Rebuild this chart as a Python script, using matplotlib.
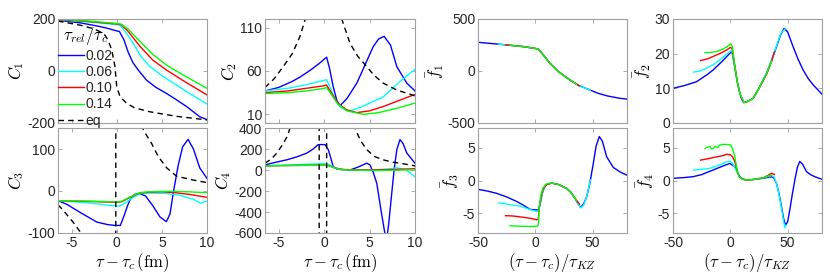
import matplotlib
matplotlib.use('Agg')
import matplotlib.pyplot as plt

plt.rcParams['font.family'] = ['Liberation Sans', 'DejaVu Sans']
plt.rcParams['mathtext.fontset'] = 'cm'
plt.rcParams['axes.unicode_minus'] = False

# colours / labels of the four relaxation times + equilibrium
rel_labels = ['0.02', '0.06', '0.10', '0.14']
rel_colors = ['#0000ff', '#00ffff', '#ff0000', '#00ff00']

# ---------------- C1 ----------------
c1_eq_x = [-6.5, -4, -2.5, -1.85, -1.3, -0.96, -0.55, -0.19, 0.0, 0.37, 1.1, 2.0, 3.7, 5.5, 7.0, 8.5, 10]
c1_eq_y = [192, 176, 162, 151, 138, 119, 81, 17, -60, -99, -124, -142, -157, -168, -176, -182, -188]
c1_b_x = [-6.5, -4, -2, -1, -0.2, 0.3, 0.8, 1.3, 1.8, 2.4, 3.3, 4.3, 5.5, 6.5, 7.75, 9.2, 10]
c1_b_y = [195, 185, 172, 164, 156, 152, 120, 70, 32, 3, -35, -62, -86, -108, -137, -176, -187]
c1_c_x = [-6.5, -4, -2, 0, 0.4, 1.0, 1.85, 2.7, 3.7, 5, 6.3, 8, 10]
c1_c_y = [197, 191, 185, 178, 175, 150, 106, 55, 17, -18, -47, -85, -127]
c1_r_x = [-6.5, -3, 0, 0.5, 1.2, 2.6, 4, 5.5, 7.5, 10]
c1_r_y = [198, 190, 181, 178, 155, 94, 42, 4, -40, -92]
c1_g_x = [-6.5, -3, 0, 0.5, 1.3, 2.6, 4, 5.5, 7.5, 10]
c1_g_y = [199, 192, 183, 180, 160, 113, 64, 23, -18, -67]

# ---------------- C2 ----------------
c2_eq_x = [-6.5, -5.5, -4.5, -3.5, -2.65, -2.1, -1.5, 0, 1.5, 1.94, 2.85, 3.7, 4.7, 5.5, 6.5, 8, 9.8, 10]
c2_eq_y = [41, 51, 65, 80, 100, 119, 200, 1000, 200, 120, 92, 77, 65, 55, 46, 38, 32, 31]
c2_b_x = [-6.5, -5, -3.5, -2.65, -1.5, -0.5, 0.28, 0.6, 1.0, 1.4, 1.75, 2.5, 3.6, 4.5, 5.4, 6.0, 6.6, 7.3, 8.0, 9.1, 10]
c2_b_y = [37, 41, 48, 53, 61, 69, 76, 63, 42, 26, 20, 28, 46, 67, 88, 97, 100, 90, 65, 46, 37]
c2_c_x = [-6.5, -4, -2, -0.5, 0.28, 0.7, 1.2, 1.8, 2.85, 4, 5.2, 6.5, 8.35, 10]
c2_c_y = [37, 40, 44, 48, 50, 40, 27, 18, 14, 18, 24, 30, 48, 62]
c2_r_x = [-6.5, -4, -2, 0, 0.25, 0.8, 1.5, 2.5, 3.6, 5, 6.5, 8, 10]
c2_r_y = [35, 37, 40, 43, 44, 35, 23, 15, 12, 14, 19, 25, 33]
c2_g_x = [-6.5, -4, -2, 0, 0.25, 0.8, 1.5, 2.5, 4.3, 6, 8, 10]
c2_g_y = [34, 35, 37, 40, 41, 33, 22, 14, 10, 12, 17, 23]

# ---------------- C3 ----------------
c3_eq_x = [-6.5, -6, -5.5, -4.8, -4.05, -3.5, -2, -0.5, -0.12, -0.08, 0.5, 1.5, 2.5, 2.95, 3.87, 4.6, 5.54, 6.64, 8.5, 10]
c3_eq_y = [-33, -44, -57, -75, -97, -120, -250, -1000, -5000, 5000, 1000, 400, 200, 145, 113, 82, 55, 35, 26, 20]
c3_b_x = [-6.5, -5.5, -4.05, -3, -2.2, -1, -0.2, 0.4, 0.8, 1.2, 1.5, 2.0, 2.5, 3.2, 4, 4.8, 5.5, 5.9, 6.3, 6.8, 7.3, 7.9, 8.5, 9.2, 10]
c3_b_y = [-23, -32, -51, -64, -74, -80, -82, -82, -60, -35, -20, -8, -6, -12, -35, -62, -73, -55, 0, 60, 105, 123, 100, 55, 30]
c3_c_x = [-6.5, -4, -2, -0.5, 0.3, 1.0, 1.8, 2.7, 4, 5.5, 7, 8.5, 9.3, 10]
c3_c_y = [-23, -27, -31, -35, -36, -28, -15, -6, -5, -6, -10, -20, -29, -24]
c3_r_x = [-6.5, -3, 0, 0.5, 1.5, 2.5, 3.5, 5, 6.5, 8, 10]
c3_r_y = [-23, -25, -27, -26, -15, -5, -3, -2, -4, -8, -15]
c3_g_x = [-6.5, -3, 0, 0.5, 1.5, 2.5, 3.5, 5, 6.5, 8, 10]
c3_g_y = [-23, -24, -26, -25, -14, -4, -2, -1, -1, -2, -4]

# ---------------- C4 ----------------
c4_eq_x = [-6.5, -5.8, -5.2, -4.5, -4.0, -3.75, -3, -2, -0.56, -0.52, 0.26, 0.3, 1.5, 3, 3.4, 4, 4.7, 5.5, 6.5, 7.5, 8.35, 10]
c4_eq_y = [65, 105, 161, 250, 330, 400, 700, 1500, 10000, -10000, -10000, 10000, 1500, 500, 400, 280, 194, 130, 97, 75, 65, 39]
c4_b_x = [-6.5, -5.5, -4.1, -3, -1.9, -1.2, -0.64, 0.1, 0.46, 0.75, 1.0, 1.4, 1.75, 2.85, 3.8, 4.7, 5.05, 5.4, 5.8, 6.2, 6.6, 6.85, 7.1, 7.4, 7.7, 8.0, 8.35, 8.7, 9.1, 10]
c4_b_y = [48, 70, 97, 125, 161, 200, 242, 242, 194, 110, 32, 10, 6, 0, 30, 65, 48, -20, -129, -350, -560, -680, -520, -258, 0, 194, 290, 250, 161, 65]
c4_c_x = [-6.5, -4, -2, 0, 0.5, 1, 1.7, 3, 5, 7, 8, 9, 10]
c4_c_y = [40, 48, 55, 60, 55, 30, 5, 0, 0, 10, 20, 5, -65]
c4_r_x = [-6.5, -3, 0, 0.5, 1.2, 2, 4, 6, 8, 10]
c4_r_y = [40, 44, 47, 42, 20, 5, 0, 2, 6, 12]
c4_g_x = [-6.5, -3, 0, 0.5, 1.2, 2, 4, 6, 8, 10]
c4_g_y = [40, 43, 45, 40, 18, 3, -3, -4, -2, 3]

# ---------------- f1 ----------------
f1_b_x = [-50, -30, -10, 2.6, 7, 12.8, 20, 30.3, 38, 47.7, 55, 63, 73.9, 80]
f1_b_y = [276, 256, 234, 212, 154, 74, -5, -87, -140, -183, -215, -240, -263, -270]
f1_c_x = [-32, -10, 2.6, 7, 12.8, 20, 30.3, 38, 48]
f1_c_y = [258, 234, 212, 154, 74, -5, -87, -140, -185]
f1_r_x = [-26, -10, 2.6, 7, 12.8, 20, 30.3, 38.5]
f1_r_y = [251, 234, 212, 154, 74, -5, -87, -143]
f1_g_x = [-22, -10, 2.6, 7, 12.8, 20, 30.3, 36]
f1_g_y = [247, 234, 212, 154, 74, -5, -87, -128]

# ---------------- f2 ----------------
f2_b_x = [-50, -40, -29.5, -20, -15, -8, -0.4, 1.5, 3.9, 6, 8.3, 10, 11.8, 15, 19.9, 25, 31.6, 36, 40.3, 44, 47, 50, 54.8, 59, 63.5, 68, 72.3, 80]
f2_b_y = [10, 10.8, 11.9, 14, 15.3, 17.5, 20.1, 20.5, 16.2, 12, 8.6, 6.8, 5.9, 6.2, 7.1, 10, 14.3, 18, 22, 25.5, 27.3, 26.3, 22, 18.5, 15.3, 12.8, 11, 8.3]
f2_c_x = [-32, -26, -20.8, -15, -9.2, -4, 0, 1.5, 3.9, 6, 8.3, 11.8, 15, 19.9, 25, 31.6, 36, 40.3, 44, 48]
f2_c_y = [14.7, 15.0, 15.8, 16.8, 18.2, 19.6, 20.8, 20.6, 16.2, 12, 8.6, 5.9, 6.2, 7.1, 10, 14.3, 18.2, 22.3, 25.8, 27.2]
f2_r_x = [-26, -20, -15, -8, -3, 0, 1.5, 3.9, 6, 8.3, 11.8, 15, 19.9, 25, 31.6, 36, 38.5]
f2_r_y = [18.0, 18.5, 19.2, 20.2, 21.1, 21.8, 21.5, 16.5, 12, 8.6, 5.9, 6.2, 7.1, 10, 14.0, 17.8, 20.5]
f2_g_x = [-22, -16, -12, -6, -2, 0.3, 1.8, 3.9, 6, 8.3, 11.8, 15, 19.9, 25, 31.6, 36]
f2_g_y = [20.3, 20.4, 20.6, 21.4, 22.2, 22.9, 22.0, 16.5, 12, 8.6, 5.9, 6.2, 7.1, 10, 14.2, 17.8]

# ---------------- f3 ----------------
f3_b_x = [-50, -42, -33.7, -25, -16.2, -10, -4.6, 2.6, 4, 6, 8, 10, 14.3, 20, 27.4, 31, 34.6, 37.5, 39.6, 42, 44.8, 47.5, 50.6, 53, 55.8, 58.5, 62.3, 68, 74, 80]
f3_b_y = [-1.35, -1.6, -1.96, -2.5, -3.2, -3.8, -4.4, -4.5, -3.8, -2.0, -1.0, -0.6, -0.4, -0.6, -1.2, -1.8, -2.7, -3.6, -4.1, -3.6, -2.5, -0.5, 2.6, 5.2, 6.7, 6.0, 3.6, 2.0, 1.3, 0.8]
f3_c_x = [-32, -25, -13.4, -5, 1.2, 2.6, 4, 6, 8, 10, 14.3, 20, 27.4, 31, 34.6, 37.5, 39.6, 42, 44.8, 48]
f3_c_y = [-3.4, -3.6, -3.9, -4.4, -4.75, -4.6, -3.5, -2.0, -1.0, -0.6, -0.4, -0.6, -1.2, -1.8, -2.7, -3.6, -4.2, -3.8, -2.5, 0.1]
f3_r_x = [-26, -20, -10.5, -3, 1.2, 2.6, 3.5, 5, 7, 10, 14.3, 20, 27.4, 31, 34.6, 38.5]
f3_r_y = [-5.36, -5.4, -5.6, -5.8, -6.0, -5.9, -4.0, -2.5, -1.2, -0.6, -0.4, -0.6, -1.2, -1.8, -2.7, -3.6]
f3_g_x = [-22, -15, -7.5, -2, 1.2, 2.6, 3.2, 4.5, 6.5, 9, 12, 14.3, 20, 27.4, 31, 34.6, 36]
f3_g_y = [-6.9, -6.95, -7.0, -7.0, -7.0, -6.8, -5.0, -2.5, -1.2, -0.6, -0.4, -0.4, -0.6, -1.2, -1.8, -2.7, -3.0]

# ---------------- f4 ----------------
f4_b_x = [-50, -40, -32.5, -25, -15, -8, -0.4, 3.9, 6, 8.3, 11, 14.1, 20, 28.6, 35.9, 38, 40.3, 42.5, 44.7, 46.5, 48.2, 50, 51.9, 54, 56.3, 58.5, 60.6, 63, 66.5, 70, 73.7, 80]
f4_b_y = [0.33, 0.45, 0.58, 0.9, 1.6, 2.1, 2.6, 2.1, 1.3, 0.58, 0.2, 0.08, 0.15, 0.33, 0.58, 0.4, -0.43, -2.0, -4.0, -5.8, -6.8, -6.3, -4.5, -2.2, 0.08, 2.0, 2.9, 2.5, 1.35, 0.9, 0.58, 0.18]
f4_c_x = [-32, -25, -17.9, -10, -3.3, 0, 2, 3.9, 6, 8.3, 11, 14.1, 20, 28.6, 35.9, 38, 40.3, 42.5, 44.7, 46.5, 47.6, 48.5]
f4_c_y = [1.6, 1.7, 1.85, 2.3, 2.86, 2.9, 2.6, 2.0, 1.2, 0.5, 0.2, 0.08, 0.15, 0.4, 0.75, 0.6, -0.4, -2.2, -4.3, -6.2, -7.2, -6.8]
f4_r_x = [-26, -20, -12, -6, -3.3, 0.3, 2, 3.9, 5.5, 7.5, 10, 14.1, 20, 28.6, 33, 36, 38.5]
f4_r_y = [3.1, 3.3, 3.6, 3.8, 4.0, 3.9, 3.6, 2.9, 1.8, 0.6, 0.25, 0.08, 0.15, 0.4, 0.8, 1.1, 0.9]
f4_g_x = [-22, -19.5, -17.9, -16.5, -15, -13, -11, -9.2, -6, -3.3, 0.3, 2, 3.9, 5.5, 7.5, 10, 14.1, 20, 28.6, 33, 36]
f4_g_y = [4.9, 5.1, 5.25, 4.8, 4.9, 5.2, 5.0, 5.4, 5.5, 5.5, 5.4, 4.8, 3.7, 2.0, 0.6, 0.25, 0.08, 0.15, 0.4, 0.7, 0.8]

W, H = 830, 274
fig = plt.figure(figsize=(W / 100, H / 100), dpi=100)


def make_axes(x0, x1, y0, y1):
    return fig.add_axes([x0 / W, 1 - y1 / H, (x1 - x0) / W, (y1 - y0) / H])


col_px = [(58, 207), (265, 415), (478, 627), (673, 822)]
row_px = [(19, 123), (128, 233)]

spine_col = '#a0a0a0'
text_col = '#262626'


def style(ax, bottom_labels):
    for s in ax.spines.values():
        s.set_color(spine_col)
        s.set_linewidth(0.8)
    ax.tick_params(direction='in', top=True, right=True, length=3, width=0.6,
                   color=spine_col, labelcolor=text_col, labelsize=10, pad=2,
                   labelbottom=bottom_labels)


def draw(ax, series, eq=None):
    handles = []
    for (x, y), col in zip(series, rel_colors):
        h, = ax.plot(x, y, color=col, lw=1.0)
        handles.append(h)
    if eq is not None:
        h, = ax.plot(eq[0], eq[1], color='k', lw=1.0, ls=(0, (4, 3)))
        handles.append(h)
    return handles


panels = [
    dict(pos=(0, 0), lines=[(c1_b_x, c1_b_y), (c1_c_x, c1_c_y), (c1_r_x, c1_r_y), (c1_g_x, c1_g_y)],
         eq=(c1_eq_x, c1_eq_y), xlim=(-6.5, 10), ylim=(-200, 200), yt=[-200, 0, 200], lab=r'$C_1$'),
    dict(pos=(1, 0), lines=[(c2_b_x, c2_b_y), (c2_c_x, c2_c_y), (c2_r_x, c2_r_y), (c2_g_x, c2_g_y)],
         eq=(c2_eq_x, c2_eq_y), xlim=(-6.5, 10), ylim=(0, 120), yt=[10, 60, 110], lab=r'$C_2$'),
    dict(pos=(0, 1), lines=[(c3_b_x, c3_b_y), (c3_c_x, c3_c_y), (c3_r_x, c3_r_y), (c3_g_x, c3_g_y)],
         eq=(c3_eq_x, c3_eq_y), xlim=(-6.5, 10), ylim=(-100, 150), yt=[-100, 0, 100], lab=r'$C_3$'),
    dict(pos=(1, 1), lines=[(c4_b_x, c4_b_y), (c4_c_x, c4_c_y), (c4_r_x, c4_r_y), (c4_g_x, c4_g_y)],
         eq=(c4_eq_x, c4_eq_y), xlim=(-6.5, 10), ylim=(-600, 400), yt=[-600, -400, -200, 0, 200, 400], lab=r'$C_4$'),
    dict(pos=(2, 0), lines=[(f1_b_x, f1_b_y), (f1_c_x, f1_c_y), (f1_r_x, f1_r_y), (f1_g_x, f1_g_y)],
         eq=None, xlim=(-50, 80), ylim=(-500, 500), yt=[-500, 0, 500], lab=r'$\bar{f}_1$'),
    dict(pos=(3, 0), lines=[(f2_b_x, f2_b_y), (f2_c_x, f2_c_y), (f2_r_x, f2_r_y), (f2_g_x, f2_g_y)],
         eq=None, xlim=(-50, 80), ylim=(0, 30), yt=[0, 10, 20, 30], lab=r'$\bar{f}_2$'),
    dict(pos=(2, 1), lines=[(f3_b_x, f3_b_y), (f3_c_x, f3_c_y), (f3_r_x, f3_r_y), (f3_g_x, f3_g_y)],
         eq=None, xlim=(-50, 80), ylim=(-8, 8), yt=[-5, 0, 5], lab=r'$\bar{f}_3$'),
    dict(pos=(3, 1), lines=[(f4_b_x, f4_b_y), (f4_c_x, f4_c_y), (f4_r_x, f4_r_y), (f4_g_x, f4_g_y)],
         eq=None, xlim=(-50, 80), ylim=(-8, 8), yt=[-5, 0, 5], lab=r'$\bar{f}_4$'),
]

for p in panels:
    c, r = p['pos']
    ax = make_axes(col_px[c][0], col_px[c][1], row_px[r][0], row_px[r][1])
    handles = draw(ax, p['lines'], p['eq'])
    ax.set_xlim(*p['xlim'])
    ax.set_ylim(*p['ylim'])
    ax.set_yticks(p['yt'])
    if c < 2:
        ax.set_xticks([-5, 0, 5, 10])
    else:
        ax.set_xticks([-50, 0, 50])
    style(ax, r == 1)
    ax.set_ylabel(p['lab'], fontsize=12, color='k', labelpad=1)
    if r == 1:
        if c < 2:
            ax.set_xlabel(r'$\tau-\tau_c\,(\mathrm{fm})$', fontsize=12, labelpad=1)
        else:
            ax.set_xlabel(r'$(\tau-\tau_c)/\tau_{KZ}$', fontsize=12, labelpad=1)
    if (c, r) == (0, 0):
        leg = ax.legend(handles, rel_labels + ['eq'], title=r'$\tau_{rel}/\tau_c$',
                        loc='lower left', bbox_to_anchor=(0, -0.045), frameon=False,
                        fontsize=10, title_fontsize=12, handlelength=1.9,
                        handletextpad=0.05, borderpad=0, borderaxespad=0,
                        labelspacing=0.16)
        for t in leg.get_texts():
            t.set_color(text_col)

fig.savefig('out.png', dpi=100)
